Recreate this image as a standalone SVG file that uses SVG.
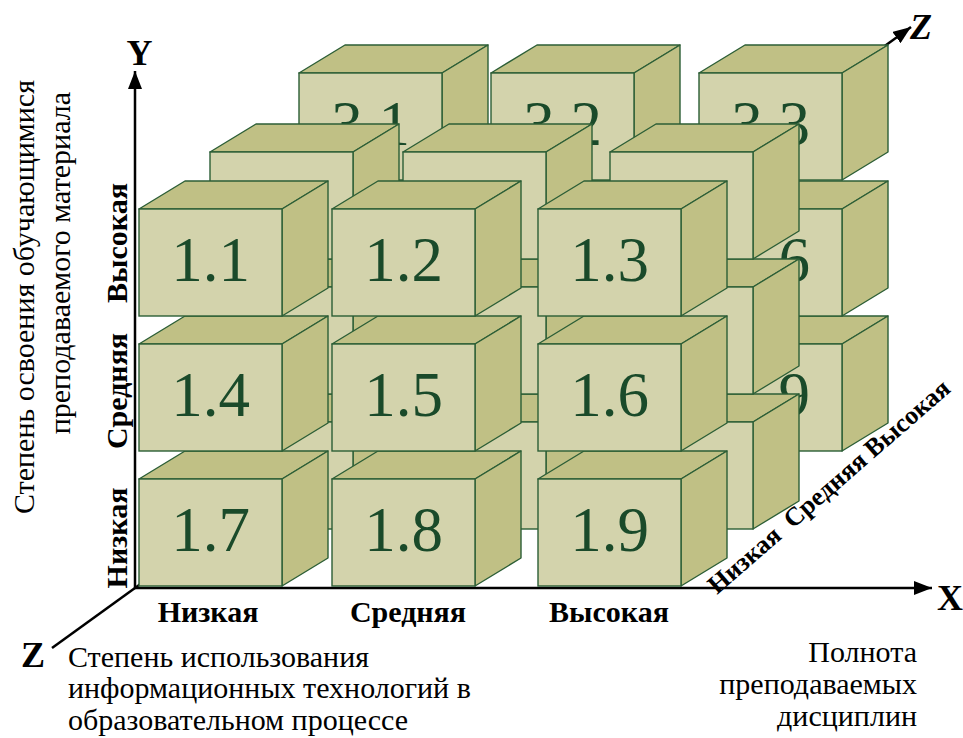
<svg xmlns="http://www.w3.org/2000/svg" width="963" height="738" viewBox="0 0 963 738">
<defs>
<marker id="arr" markerWidth="20" markerHeight="14" refX="18" refY="7" orient="auto" markerUnits="userSpaceOnUse"><path d="M0,0 L18,7 L0,14 z" fill="#000"/></marker>
<style>
text{font-family:'Liberation Serif','Times New Roman',Times,'DejaVu Serif',serif}
.front{fill:#d3d3ac;stroke:#2c5e36;stroke-width:1.4}
.side{fill:#c0c085;stroke:#2c5e36;stroke-width:1.4;stroke-linejoin:round}
.num{font-size:63px;fill:#1a4a2a;text-anchor:middle}
.axis{stroke:#000;stroke-width:2.5;fill:none}
.lvl{font-weight:bold;font-size:30px;fill:#000;text-anchor:middle}
.ax{font-weight:bold;font-size:36px;fill:#000}
.cap{font-size:30px;fill:#000}
</style>
<g id="box">
<polygon class="side" points="0,0 46,-28 189,-28 143,0"/>
<polygon class="side" points="143,0 189,-28 189,79 143,107"/>
<rect class="front" x="0" y="0" width="143" height="107"/>
</g>
</defs>
<rect width="963" height="738" fill="#fff"/>

<g id="connectors">
<line id="axis-z" class="axis" x1="52" y1="648" x2="911" y2="27" marker-end="url(#arr)"/>
<line id="axis-y" class="axis" x1="135" y1="589" x2="135" y2="71" marker-end="url(#arr)"/>
<line id="axis-x" class="axis" x1="134" y1="588" x2="932" y2="588" marker-end="url(#arr)"/>
</g>

<g id="layer3">
<g id="box-3-7" transform="translate(299,344)"><use href="#box"/></g>
<g id="box-3-8" transform="translate(491,344)"><use href="#box"/></g>
<g id="box-3-9" transform="translate(699,344)"><use href="#box"/><text class="num" x="71.5" y="72">3.9</text></g>
<g id="box-3-4" transform="translate(299,209)"><use href="#box"/></g>
<g id="box-3-5" transform="translate(491,209)"><use href="#box"/></g>
<g id="box-3-6" transform="translate(699,209)"><use href="#box"/><text class="num" x="71.5" y="72">3.6</text></g>
<g id="box-3-1" transform="translate(299,73)"><use href="#box"/><text class="num" x="71.5" y="72">3.1</text></g>
<g id="box-3-2" transform="translate(491,73)"><use href="#box"/><text class="num" x="71.5" y="72">3.2</text></g>
<g id="box-3-3" transform="translate(699,73)"><use href="#box"/><text class="num" x="71.5" y="72">3.3</text></g>
</g>

<g id="layer2">
<g id="box-2-7" transform="translate(210,422)"><use href="#box"/></g>
<g id="box-2-8" transform="translate(403,422)"><use href="#box"/></g>
<g id="box-2-9" transform="translate(610,422)"><use href="#box"/></g>
<g id="box-2-4" transform="translate(210,287)"><use href="#box"/></g>
<g id="box-2-5" transform="translate(403,287)"><use href="#box"/></g>
<g id="box-2-6" transform="translate(610,287)"><use href="#box"/></g>
<g id="box-2-1" transform="translate(210,152)"><use href="#box"/></g>
<g id="box-2-2" transform="translate(403,152)"><use href="#box"/></g>
<g id="box-2-3" transform="translate(610,152)"><use href="#box"/></g>
</g>

<g id="layer1">
<g id="box-1-7" transform="translate(139,479)"><use href="#box"/><text class="num" x="71.5" y="72">1.7</text></g>
<g id="box-1-8" transform="translate(332,479)"><use href="#box"/><text class="num" x="71.5" y="72">1.8</text></g>
<g id="box-1-9" transform="translate(538,479)"><use href="#box"/><text class="num" x="71.5" y="72">1.9</text></g>
<g id="box-1-4" transform="translate(139,344)"><use href="#box"/><text class="num" x="71.5" y="72">1.4</text></g>
<g id="box-1-5" transform="translate(332,344)"><use href="#box"/><text class="num" x="71.5" y="72">1.5</text></g>
<g id="box-1-6" transform="translate(538,344)"><use href="#box"/><text class="num" x="71.5" y="72">1.6</text></g>
<g id="box-1-1" transform="translate(139,209)"><use href="#box"/><text class="num" x="71.5" y="72">1.1</text></g>
<g id="box-1-2" transform="translate(332,209)"><use href="#box"/><text class="num" x="71.5" y="72">1.2</text></g>
<g id="box-1-3" transform="translate(538,209)"><use href="#box"/><text class="num" x="71.5" y="72">1.3</text></g>
</g>

<g id="axis-labels">
<text class="ax" x="139.5" y="65" text-anchor="middle">Y</text>
<text class="ax" x="937" y="610">X</text>
<text class="ax" x="21" y="667">Z</text>
<text class="ax" x="910" y="39" font-style="italic">Z</text>
</g>

<g id="level-labels">
<text class="lvl" x="208" y="622">Низкая</text>
<text class="lvl" x="408" y="622">Средняя</text>
<text class="lvl" x="609" y="622">Высокая</text>
<text class="lvl" transform="translate(127,538) rotate(-90)">Низкая</text>
<text class="lvl" transform="translate(127,391) rotate(-90)">Средняя</text>
<text class="lvl" transform="translate(127,243) rotate(-90)">Высокая</text>
<text class="lvl" style="font-size:26px;text-anchor:start" xml:space="preserve" transform="translate(717,595) rotate(-41)">Низкая  Средняя Высокая</text>
</g>

<g id="titles">
<text class="cap" transform="translate(34,80) rotate(-90)" text-anchor="end">Степень освоения обучающимися</text>
<text class="cap" transform="translate(70,92) rotate(-90)" text-anchor="end">преподаваемого материала</text>
<text class="cap" x="68" y="667">Степень использования</text>
<text class="cap" x="68" y="698">информационных технологий в</text>
<text class="cap" x="68" y="730">образовательном процессе</text>
<text class="cap" x="917" y="662" text-anchor="end">Полнота</text>
<text class="cap" x="917" y="694" text-anchor="end">преподаваемых</text>
<text class="cap" x="917" y="726" text-anchor="end">дисциплин</text>
</g>
</svg>
